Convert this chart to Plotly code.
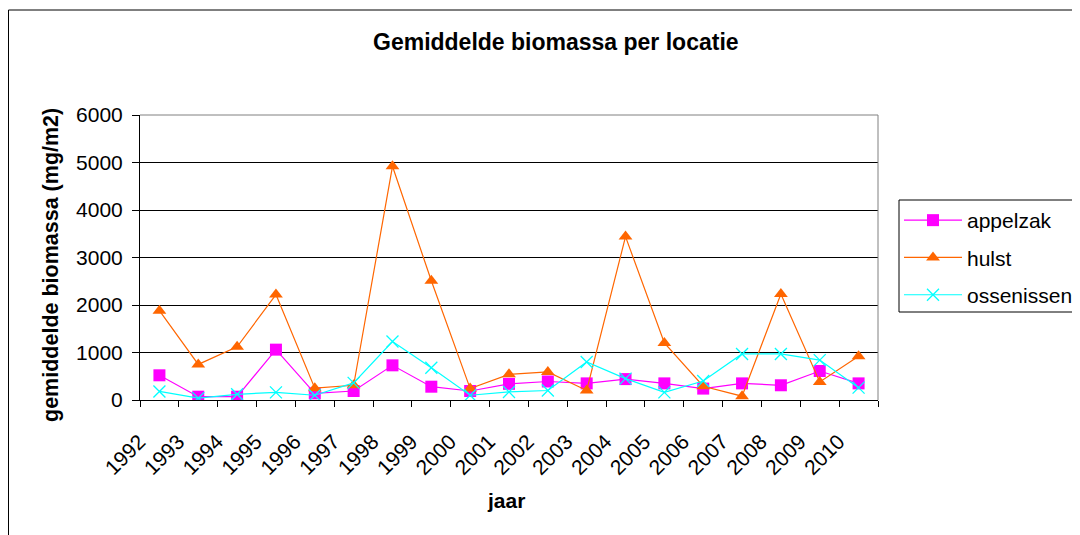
import plotly.graph_objects as go

years = [str(y) for y in range(1992, 2011)]
appelzak = [520, 70, 70, 1060, 140, 190, 730, 280, 190, 340, 390, 350, 440, 350, 240, 350, 310, 610, 350]
hulst = [1880, 750, 1120, 2220, 250, 310, 4920, 2510, 240, 540, 590, 200, 3440, 1200, 290, 80, 2230, 380, 920]
ossenissen = [180, 40, 120, 160, 100, 360, 1230, 680, 100, 170, 200, 800, 450, 160, 400, 970, 970, 840, 260]

FONT = "Liberation Sans, Arial, sans-serif"

fig = go.Figure()
fig.add_trace(go.Scatter(x=years, y=appelzak, name="appelzak", mode="lines+markers",
                         line=dict(color="#FF00FF", width=1.2),
                         marker=dict(symbol="square", size=12, color="#FF00FF"),
                         legendgroup="a"))
fig.add_trace(go.Scatter(x=years, y=hulst, name="hulst", mode="lines+markers",
                         line=dict(color="#FF6600", width=1.2),
                         marker=dict(symbol="triangle-up", size=12, color="#FF6600"),
                         legendgroup="b"))
fig.add_trace(go.Scatter(x=years, y=ossenissen, name="ossenissen", mode="lines+markers",
                         line=dict(color="#00FFFF", width=1.2),
                         marker=dict(symbol="x-thin", size=12, color="#00FFFF",
                                     line=dict(color="#00FFFF", width=1.3)),
                         legendgroup="c"))

OFF = 8  # default body margin of the html page
W, H = 1080 - OFF, 535 - OFF
L, R, T, B = 140 - OFF, 878 - OFF, 115 - OFF, 400 - OFF


def px(x):
    return (x - OFF - L) / (R - L)


def py(y):
    return (B - (y - OFF)) / (B - T)


fig.update_layout(
    width=W, height=H,
    margin=dict(l=L, r=W - R, t=T, b=H - B, autoexpand=False),
    paper_bgcolor="white", plot_bgcolor="white",
    font=dict(family=FONT, size=21, color="black"),
    showlegend=True,
    legend=dict(x=px(899), y=py(200), xanchor="left", yanchor="top",
                borderwidth=0, bgcolor="rgba(0,0,0,0)",
                font=dict(family=FONT, size=21),
                traceorder="grouped", tracegroupgap=7,
                itemwidth=58),
    xaxis=dict(type="category", range=[-0.5, len(years) - 0.5], tickangle=-45, tickson="boundaries",
               ticks="outside", ticklen=6, tickcolor="black",
               showline=True, linecolor="black", linewidth=1, mirror=False,
               showgrid=False, tickfont=dict(family=FONT, size=21),
               ticklabelshift=-20, ticklabelstandoff=20, automargin=False),
    yaxis=dict(range=[0, 6000], dtick=1000, ticks="outside", ticklen=7, tickcolor="black",
               showline=True, linecolor="black", linewidth=1,
               showgrid=True, gridcolor="black", gridwidth=1, zeroline=False,
               tickfont=dict(family=FONT, size=21), ticklabelstandoff=5, automargin=False),
    annotations=[
        dict(text="<b>Gemiddelde biomassa per locatie</b>", xref="paper", yref="paper",
             x=px(556), y=py(42), xanchor="center", yanchor="middle", showarrow=False,
             font=dict(family=FONT, size=23)),
        dict(text="<b>gemiddelde biomassa (mg/m2)</b>", xref="paper", yref="paper",
             x=px(51), y=py(265), xanchor="center", yanchor="middle", showarrow=False,
             textangle=-90, font=dict(family=FONT, size=21.5)),
        dict(text="<b>jaar</b>", xref="paper", yref="paper",
             x=px(506), y=py(500), xanchor="center", yanchor="middle", showarrow=False,
             font=dict(family=FONT, size=21)),
    ],
    shapes=[
        dict(type="rect", xref="paper", yref="paper", x0=px(8.5), x1=px(1100), y0=py(10), y1=py(560),
             line=dict(color="black", width=1), layer="below"),
        dict(type="rect", xref="paper", yref="paper", x0=px(899), x1=px(1100), y0=py(200), y1=py(312),
             line=dict(color="black", width=1), layer="below"),
        dict(type="line", xref="paper", yref="paper", x0=1, x1=1, y0=0, y1=1,
             line=dict(color="#808080", width=1)),
        dict(type="line", xref="paper", yref="paper", x0=0, x1=1, y0=1, y1=1,
             line=dict(color="#808080", width=1)),
    ],
)

fig.write_html("out.html")
